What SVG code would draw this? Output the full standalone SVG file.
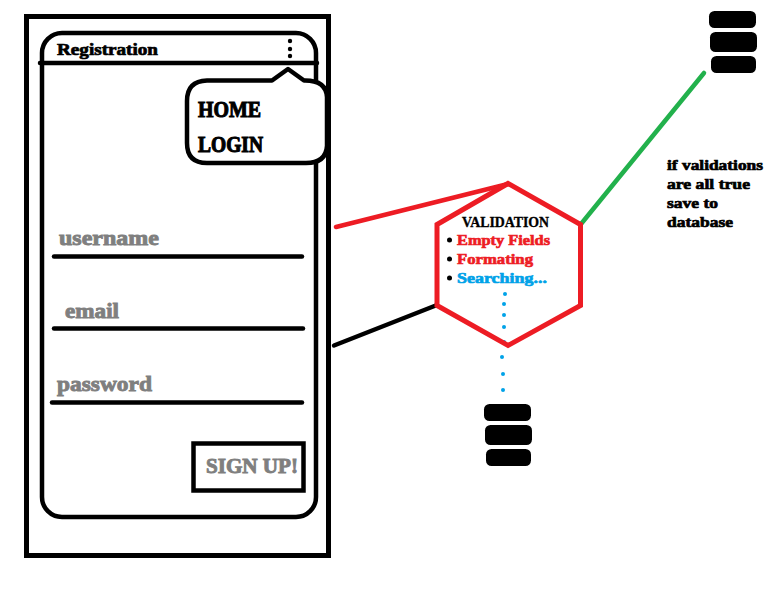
<svg xmlns="http://www.w3.org/2000/svg" width="777" height="601" viewBox="0 0 777 601">
<style>
text{font-family:"Liberation Serif","Times New Roman",serif;font-weight:bold;stroke-width:.7}
.k{fill:#000;stroke:#000}.g{fill:#7f7f7f;stroke:#7f7f7f}.r{fill:#ed1c24;stroke:#ed1c24}.b{fill:#00a2e8;stroke:#00a2e8}
.ln{fill:none;stroke:#000;stroke-width:4.5;stroke-linecap:round;stroke-linejoin:round}
.db rect{fill:#000}
.dot{fill:#00a2e8}
.f{font-size:21px;stroke-width:.9}.v{font-size:15.5px}.n{font-size:15px}
.h{font-size:23px;stroke-width:1.1}
</style>
<rect width="777" height="601" fill="#fff"/>
<g id="phone">
<rect x="26.5" y="16.5" width="302" height="539" fill="#fff" stroke="#000" stroke-width="5"/>
<rect x="42" y="33" width="274" height="484" rx="20" class="ln"/>
<path d="M40 63H317" class="ln"/>
<text x="57" y="55" class="k" font-size="16.5" textLength="101" lengthAdjust="spacingAndGlyphs">Registration</text>
<circle cx="290" cy="41" r="2.2"/><circle cx="290" cy="49" r="2.2"/><circle cx="290" cy="56" r="2.2"/>
</g>
<g id="menu">
<path d="M207 80.5H272L288 69L304 80.5Q326 80 327 97V146Q326 163 306 163H207Q187 163 187 143V101Q187 81 207 80.5Z" fill="#fff" stroke="#000" stroke-width="4.5" stroke-linejoin="round"/>
<text x="198" y="117" class="k h" textLength="63" lengthAdjust="spacingAndGlyphs">HOME</text>
<text x="198" y="152" class="k h" textLength="65" lengthAdjust="spacingAndGlyphs">LOGIN</text>
</g>
<g id="form">
<text x="59" y="245" class="g f" textLength="100" lengthAdjust="spacingAndGlyphs">username</text>
<path d="M54 256.500H302" class="ln"/>
<text x="65" y="318" class="g f" textLength="54" lengthAdjust="spacingAndGlyphs">email</text>
<path d="M54 328.500H303" class="ln"/>
<text x="57" y="391" class="g f" textLength="95" lengthAdjust="spacingAndGlyphs">password</text>
<path d="M52 402.500H302" class="ln"/>
</g>
<g id="signup">
<rect x="193.500" y="443.500" width="110" height="47" fill="#fff" stroke="#000" stroke-width="4.500"/>
<text x="206" y="473" class="g" font-size="20" textLength="92" lengthAdjust="spacingAndGlyphs" style="stroke-width:.9">SIGN UP!</text>
</g>
<g id="connectors" fill="none" stroke-width="4.500" stroke-linecap="round">
<path d="M336 227L508 184" stroke="#ed1c24"/>
<path d="M334 345.500L437 305" stroke="#000"/>
<path d="M581 224L704 73" stroke="#22b14c"/>
<g class="dot" stroke="none">
<circle cx="505" cy="294" r="2"/><circle cx="504" cy="304" r="2"/><circle cx="504" cy="315" r="2"/><circle cx="504" cy="327" r="2"/><circle cx="504" cy="342" r="2"/><circle cx="502" cy="357" r="2"/><circle cx="503" cy="374" r="2"/><circle cx="503" cy="390" r="2"/>
</g>
</g>
<g id="validation">
<path d="M508 183.500L580.500 224.500V305.500L508 345.500L437 305.500V224.500Z" fill="none" stroke="#ed1c24" stroke-width="5"/>
<text x="462" y="227" class="k" font-size="15.500" textLength="87" lengthAdjust="spacingAndGlyphs" style="stroke-width:.35">VALIDATION</text>
<circle cx="449.500" cy="240" r="2.500"/><circle cx="449.500" cy="259" r="2.500"/><circle cx="449.500" cy="278" r="2.500"/>
<text x="457" y="245" class="r v" textLength="93" lengthAdjust="spacingAndGlyphs">Empty Fields</text>
<text x="457" y="264" class="r v" textLength="76" lengthAdjust="spacingAndGlyphs">Formating</text>
<text x="457" y="283" class="b v" textLength="90" lengthAdjust="spacingAndGlyphs">Searching...</text>
</g>
<g id="db-top" class="db">
<rect x="709" y="11" width="47" height="17" rx="5.500"/><rect x="710" y="32" width="47" height="20" rx="5.500"/><rect x="711" y="56" width="45" height="17" rx="5.500"/>
</g>
<g id="db-bottom" class="db">
<rect x="484" y="404" width="47" height="17" rx="5.500"/><rect x="485" y="425" width="47" height="20" rx="5.500"/><rect x="486" y="449" width="45" height="17" rx="5.500"/>
</g>
<g id="note">
<text x="667" y="170" class="k n" textLength="96" lengthAdjust="spacingAndGlyphs">if validations</text>
<text x="667" y="189" class="k n" textLength="83" lengthAdjust="spacingAndGlyphs">are all true</text>
<text x="667" y="208" class="k n" textLength="51" lengthAdjust="spacingAndGlyphs">save to</text>
<text x="667" y="227" class="k n" textLength="66" lengthAdjust="spacingAndGlyphs">database</text>
</g>
</svg>
